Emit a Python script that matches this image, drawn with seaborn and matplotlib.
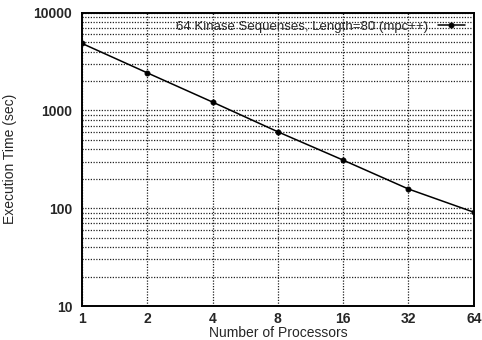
import matplotlib
matplotlib.use("Agg")
import matplotlib.pyplot as plt
import matplotlib.ticker as mticker
import seaborn as sns
import pandas as pd

processors = [1, 2, 4, 8, 16, 32, 64]
exec_time = [4840, 2420, 1216, 604, 310, 157, 91]
series_label = "64 Kinase Sequenses, Length=80 (mpc++)"
x_ticks = [1, 2, 4, 8, 16, 32, 64]
y_ticks = [10, 100, 1000, 10000]

sns.set_theme(style="white")
plt.rcParams['font.family'] = ['Liberation Sans', 'DejaVu Sans']

df = pd.DataFrame({"Number of Processors": processors, "Execution Time (sec)": exec_time})

fig = plt.figure(figsize=(4.82, 3.4), dpi=100)
ax = fig.add_axes([0.170, 0.100, 0.813, 0.863])

sns.lineplot(data=df, x="Number of Processors", y="Execution Time (sec)", ax=ax,
             color="black", linewidth=1.1, marker="o", markersize=3.5,
             markeredgecolor="black", label=series_label)

ax.set_xscale("log", base=2)
ax.set_yscale("log")
ax.set_xlim(1, 64)
ax.set_ylim(10, 10000)
ax.set_xticks(x_ticks)
ax.xaxis.set_major_formatter(mticker.FixedFormatter([str(v) for v in x_ticks]))
ax.xaxis.set_minor_locator(mticker.NullLocator())
ax.set_yticks(y_ticks)
ax.yaxis.set_major_formatter(mticker.FixedFormatter([str(v) for v in y_ticks]))
ax.yaxis.set_minor_locator(mticker.LogLocator(base=10, subs=range(2, 10)))
ax.yaxis.set_minor_formatter(mticker.NullFormatter())

ax.grid(True, which="major", axis="both", color="#222222", linestyle=(0, (1, 1.2)), linewidth=0.9)
ax.grid(True, which="minor", axis="y", color="#222222", linestyle=(0, (1, 1.2)), linewidth=0.9)

for s in ax.spines.values():
    s.set_color("black")
    s.set_linewidth(1.4)

ax.tick_params(axis="both", which="major", labelsize=10, length=4, direction="in", color="black")
ax.tick_params(axis="x", which="major", pad=4)
ax.tick_params(axis="y", which="major", pad=7)
ax.tick_params(axis="y", which="minor", length=2, direction="in", color="black")
for lab in ax.get_xticklabels() + ax.get_yticklabels():
    lab.set_fontweight("bold")

ax.set_xlabel("Number of Processors", fontsize=10, labelpad=0)
ax.set_ylabel("Execution Time (sec)", fontsize=10, labelpad=12)

leg = ax.legend(loc="upper right", frameon=False, fontsize=9.5, markerfirst=False,
                handlelength=2.0, borderaxespad=0.3, bbox_to_anchor=(1.0, 1.005))

fig.savefig("out.png", dpi=100, facecolor="white")
